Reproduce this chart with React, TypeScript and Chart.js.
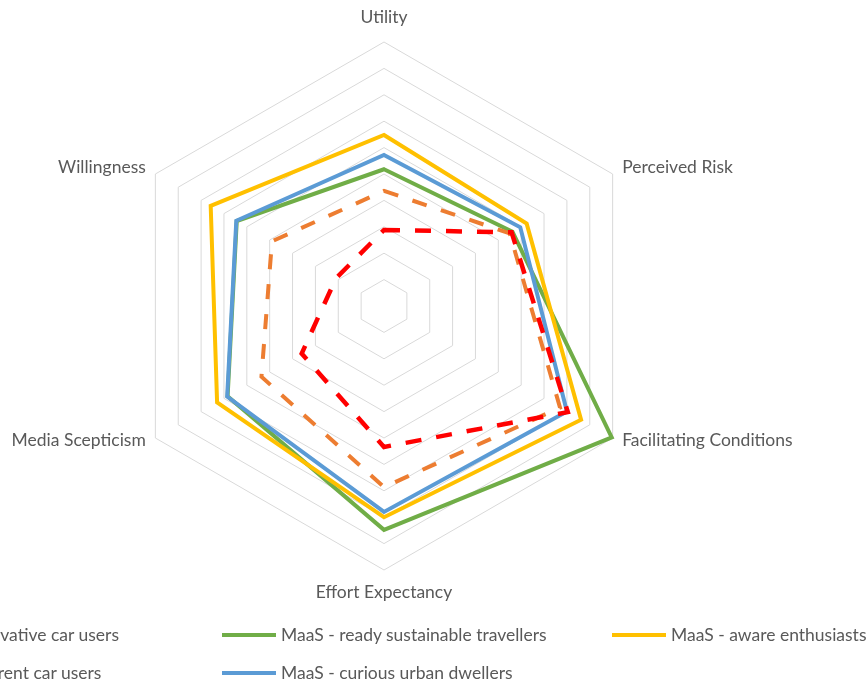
import React, { useEffect, useRef } from "react";
import { Chart, registerables } from "chart.js";

Chart.register(...registerables);

const axisLabels = [
  "Utility",
  "Perceived Risk",
  "Facilitating Conditions",
  "Effort Expectancy",
  "Media Scepticism",
  "Willingness",
];

const conservativeCarUsers = [1.44, 2.79, 4.02, 2.67, 1.8, 1.05];
const readySustainableTravellers = [2.59, 2.81, 4.98, 4.24, 3.42, 3.22];
const awareEnthusiasts = [3.24, 3.12, 4.31, 4.0, 3.65, 3.79];
const indifferentCarUsers = [2.18, 2.75, 3.85, 3.43, 2.68, 2.45];
const curiousUrbanDwellers = [2.86, 2.98, 4.0, 3.9, 3.43, 3.23];

const scaleMin = 0;
const scaleMax = 5;
const scaleStep = 0.5;

const seriesNames = [
  "MaaS - conservative car users",
  "MaaS - ready sustainable travellers",
  "MaaS - aware enthusiasts",
  "MaaS - indifferent car users",
  "MaaS - curious urban dwellers",
];

const FONT = "Lato, 'Noto Sans', sans-serif";
const FONT_SIZE = 17.5;
const TEXT = "#595959";

const labelPlugin = {
  id: "axisLabelsPlugin",
  afterDraw(chart: any) {
    const scale = chart.scales.r;
    const ctx = chart.ctx;
    ctx.save();
    ctx.font = `${FONT_SIZE}px ${FONT}`;
    ctx.fillStyle = TEXT;
    ctx.textBaseline = "middle";
    axisLabels.forEach((label, i) => {
      const angle = scale.getIndexAngle(i) - Math.PI / 2;
      const c = Math.cos(angle);
      const s = Math.sin(angle);
      const vertical = Math.abs(c) < 0.01;
      const extra = vertical ? (s < 0 ? 25 : 22) : 11;
      const p = scale.getPointPosition(i, scale.drawingArea + extra);
      ctx.textAlign = vertical ? "center" : c > 0 ? "left" : "right";
      const dy = vertical ? 0 : s < 0 ? -1 : -3;
      ctx.fillText(label, p.x, p.y + dy);
    });
    ctx.restore();
  },
};

type LegendItem = { name: string; color: string; dashed: boolean; col: number; row: number };

const legendItems: LegendItem[] = [
  { name: seriesNames[0], color: "#FF0000", dashed: true, col: 0, row: 0 },
  { name: seriesNames[1], color: "#70AD47", dashed: false, col: 1, row: 0 },
  { name: seriesNames[2], color: "#FFC000", dashed: false, col: 2, row: 0 },
  { name: seriesNames[3], color: "#ED7D31", dashed: true, col: 0, row: 1 },
  { name: seriesNames[4], color: "#5B9BD5", dashed: false, col: 1, row: 1 },
];

const colX = [-168, 222, 612];
const rowY = [635, 673];

export default function App() {
  const canvasRef = useRef<HTMLCanvasElement | null>(null);

  useEffect(() => {
    if (!canvasRef.current) return;
    const chart = new Chart(canvasRef.current, {
      type: "radar",
      data: {
        labels: axisLabels,
        datasets: [
          {
            label: seriesNames[0],
            data: conservativeCarUsers,
            borderColor: "#FF0000",
            borderWidth: 4.5,
            borderDash: [16, 15],
            fill: false,
            order: 1,
          },
          {
            label: seriesNames[1],
            data: readySustainableTravellers,
            borderColor: "#70AD47",
            borderWidth: 4,
            fill: false,
            order: 5,
          },
          {
            label: seriesNames[2],
            data: awareEnthusiasts,
            borderColor: "#FFC000",
            borderWidth: 4,
            fill: false,
            order: 4,
          },
          {
            label: seriesNames[3],
            data: indifferentCarUsers,
            borderColor: "#ED7D31",
            borderWidth: 4,
            borderDash: [15, 15],
            fill: false,
            order: 2,
          },
          {
            label: seriesNames[4],
            data: curiousUrbanDwellers,
            borderColor: "#5B9BD5",
            borderWidth: 4,
            fill: false,
            order: 3,
          },
        ],
      },
      options: {
        animation: false,
        responsive: false,
        maintainAspectRatio: false,
        events: [],
        layout: { padding: { left: 120, right: 220, top: 42, bottom: 113 } },
        elements: {
          point: { radius: 0, hoverRadius: 0 },
          line: { tension: 0, borderJoinStyle: "miter" },
        },
        plugins: {
          legend: { display: false },
          tooltip: { enabled: false },
        },
        scales: {
          r: {
            min: scaleMin,
            max: scaleMax,
            ticks: { display: false, stepSize: scaleStep },
            grid: { color: "#D9D9D9", lineWidth: 1 },
            angleLines: { display: false },
            pointLabels: { display: false },
          },
        },
      },
      plugins: [labelPlugin],
    });
    return () => chart.destroy();
  }, []);

  return (
    <div
      style={{
        position: "absolute",
        left: 0,
        top: 0,
        width: 868,
        height: 683,
        overflow: "hidden",
        background: "#ffffff",
      }}
    >
      <canvas
        ref={canvasRef}
        width={868}
        height={683}
        style={{ position: "absolute", left: 0, top: 0, width: 868, height: 683 }}
      />
      {legendItems.map((it, k) => (
        <div key={k}>
          <div
            style={{
              position: "absolute",
              left: colX[it.col],
              top: rowY[it.row] - 2,
              width: 54,
              height: 4,
              background: it.dashed
                ? `repeating-linear-gradient(90deg, ${it.color} 0 10px, transparent 10px 16px)`
                : it.color,
            }}
          />
          <div
            style={{
              position: "absolute",
              left: colX[it.col] + 59,
              top: rowY[it.row] - 11,
              height: 22,
              lineHeight: "22px",
              font: `${FONT_SIZE}px ${FONT}`,
              color: TEXT,
              whiteSpace: "nowrap",
            }}
          >
            {it.name}
          </div>
        </div>
      ))}
    </div>
  );
}
